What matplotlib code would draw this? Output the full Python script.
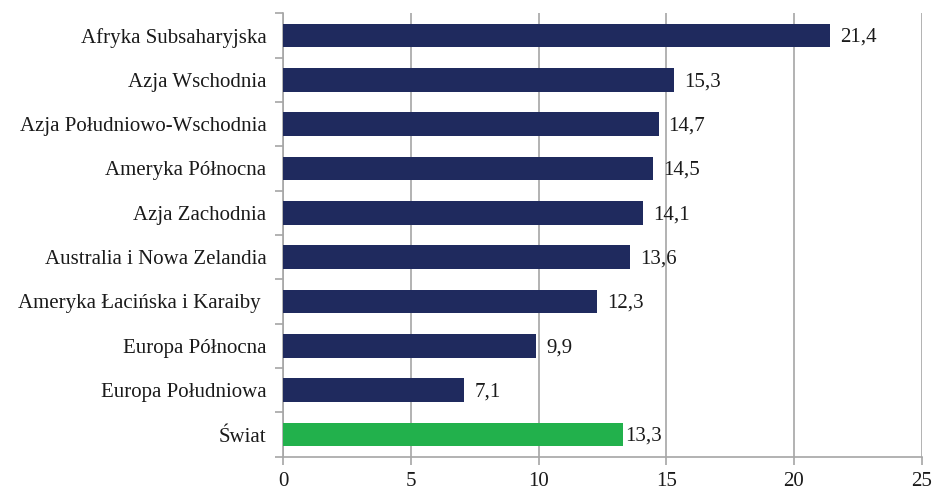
import matplotlib
matplotlib.use("Agg")
import matplotlib.pyplot as plt

categories = ["Afryka Subsaharyjska", "Azja Wschodnia", "Azja Południowo-Wschodnia",
              "Ameryka Północna", "Azja Zachodnia", "Australia i Nowa Zelandia",
              "Ameryka Łacińska i Karaiby ", "Europa Północna", "Europa Południowa", "Świat"]
values = [21.4, 15.3, 14.7, 14.5, 14.1, 13.6, 12.3, 9.9, 7.1, 13.3]
value_labels = ["21,4", "15,3", "14,7", "14,5", "14,1", "13,6", "12,3", "9,9", "7,1", "13,3"]
xticks = [0, 5, 10, 15, 20, 25]

NAVY = "#1F2A5E"
GREEN = "#22B14C"
GRID = "#A6A6A6"

plt.rcParams['font.family'] = ['Liberation Serif', 'DejaVu Serif']

fig = plt.figure(figsize=(9.35, 4.91), dpi=100)
ax = fig.add_axes([0.3027, 0.0699, 0.9858 - 0.3027, 0.9729 - 0.0699])

n = len(categories)
ypos = list(range(n))
colors = [NAVY] * (n - 1) + [GREEN]
ax.barh(ypos, values, height=0.53, color=colors, zorder=3)
ax.set_ylim(n - 0.5, -0.5)
ax.set_xlim(0, 25)

ax.set_yticks(ypos)
ax.set_yticklabels(categories, fontsize=15, color='#1a1a1a')
ax.set_yticks([i - 0.5 for i in range(n + 1)], minor=True)
ax.tick_params(axis='y', which='major', length=0, pad=12)
ax.tick_params(axis='y', which='minor', length=6, color=GRID, width=1.2)

ax.set_xticks(xticks)
ax.set_xticklabels([str(t) for t in xticks], fontsize=15, color='#1a1a1a')
ax.tick_params(axis='x', length=6, color=GRID, width=1.2, pad=5)

ax.grid(axis='x', color=GRID, linewidth=1.2, zorder=0)
for s in ['top', 'right']:
    ax.spines[s].set_visible(False)
for s in ['left', 'bottom']:
    ax.spines[s].set_color(GRID)
    ax.spines[s].set_linewidth(1.2)

for i, (v, lab) in enumerate(zip(values, value_labels)):
    off = 2 if i == n - 1 else 10
    ax.annotate(lab, (v, i), xytext=(off, -2), textcoords='offset pixels',
                va='center', ha='left', fontsize=15, color='#1a1a1a')

fig.savefig("out.png", dpi=100)
